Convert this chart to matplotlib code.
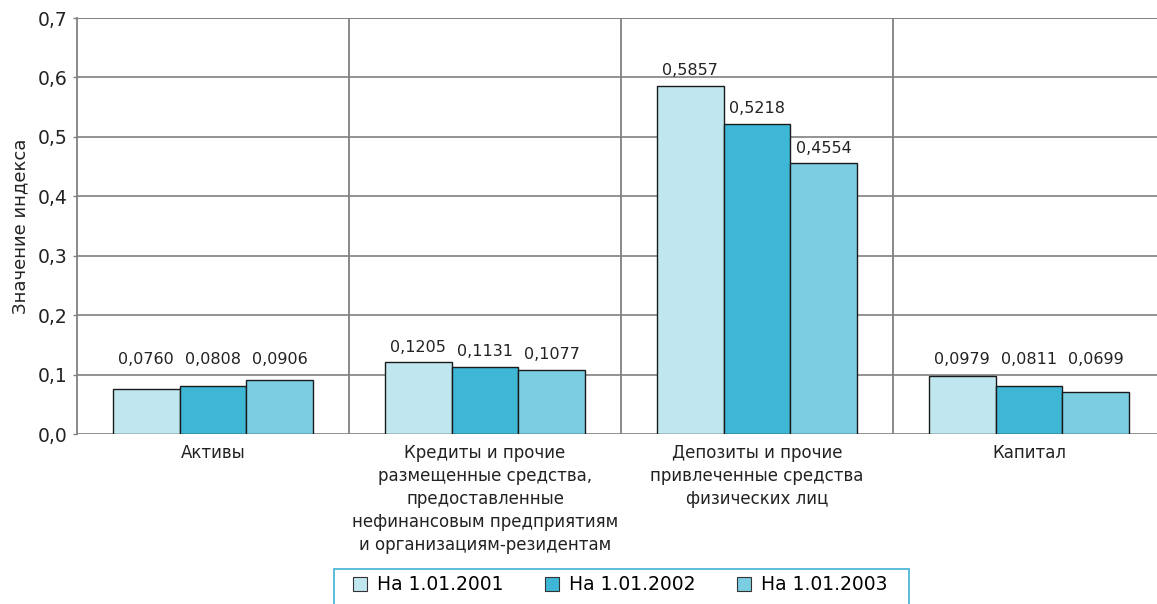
import matplotlib.pyplot as plt
from matplotlib.patches import Rectangle
import numpy as np

plt.rcParams['font.family'] = ['DejaVu Sans']

categories = ["Активы",
              "Кредиты и прочие\nразмещенные средства,\nпредоставленные\nнефинансовым предприятиям\nи организациям-резидентам",
              "Депозиты и прочие\nпривлеченные средства\nфизических лиц",
              "Капитал"]
series_names = ["На 1.01.2001", "На 1.01.2002", "На 1.01.2003"]
v2001 = [0.0760, 0.1205, 0.5857, 0.0979]
v2002 = [0.0808, 0.1131, 0.5218, 0.0811]
v2003 = [0.0906, 0.1077, 0.4554, 0.0699]
yticks = [0.0, 0.1, 0.2, 0.3, 0.4, 0.5, 0.6, 0.7]

colors = ["#c0e6f0", "#3db7d5", "#7bcde1"]
grid_c = "#808080"
txt_c = "#222222"

fig = plt.figure(figsize=(11.57, 6.04), dpi=100)
ax = fig.add_axes([77/1157, 170/604, 1088/1157, 416/604])

x = np.arange(len(categories))
w = 0.245
series = [v2001, v2002, v2003]
for i, (vals, name) in enumerate(zip(series, series_names)):
    pos = x + (i - 1) * w
    ax.bar(pos, vals, w, color=colors[i], edgecolor="#1a1a1a", linewidth=1.0,
           label=name, zorder=3)
    # labels of small bars sit just above the 0,1 line
    for px, v in zip(pos, vals):
        ax.annotate(f"{v:.4f}".replace(".", ","), (px, max(v, 0.1)),
                    xytext=(0, 11), textcoords="offset points",
                    ha="center", va="center", fontsize=11.5, color=txt_c)

ax.set_xlim(-0.5, 3.5)
ax.set_ylim(0, 0.7)
ax.set_yticks(yticks)
ax.set_yticklabels([f"{t:.1f}".replace(".", ",") for t in yticks], fontsize=13.5, color=txt_c)
ax.set_xticks([])
for sep in [0.5, 1.5, 2.5]:
    ax.axvline(sep, color=grid_c, linewidth=1.3, zorder=1)
ax.yaxis.grid(True, color=grid_c, linewidth=1.2, zorder=1)
ax.set_axisbelow(True)
for s in ["top", "right", "bottom"]:
    ax.spines[s].set_visible(False)
ax.spines["left"].set_color(grid_c)
ax.spines["left"].set_linewidth(1.3)
ax.tick_params(axis="y", length=3, width=1, color=grid_c, pad=4)
ax.axhline(0.7, color=grid_c, linewidth=1.2, zorder=1)

for xi, c in zip(x, categories):
    ax.text(xi, -0.016, c, ha="center", va="top", fontsize=12,
            color=txt_c, linespacing=1.37)

ax.set_ylabel("Значение индекса", fontsize=13, color=txt_c, labelpad=6)

leg = fig.legend(loc="center", bbox_to_anchor=(620/1157, 1 - 585/604), ncol=3,
                 fontsize=13.5, frameon=False, handlelength=0.75,
                 handleheight=0.75, columnspacing=2.2, handletextpad=0.53,
                 borderpad=0, borderaxespad=0)
for h in leg.legend_handles:
    h.set_edgecolor("#333333")
    h.set_linewidth(0.8)

# legend box: wider side padding than top, runs off the bottom edge
fig.canvas.draw()
bb = leg.get_window_extent()
fig.patches.append(Rectangle((bb.x0 - 19, -10), bb.width + 41, 35 + 10,
                             transform=None, fill=False, edgecolor="#4fb6d6",
                             linewidth=1.3))

fig.savefig("out.png", dpi=100)
